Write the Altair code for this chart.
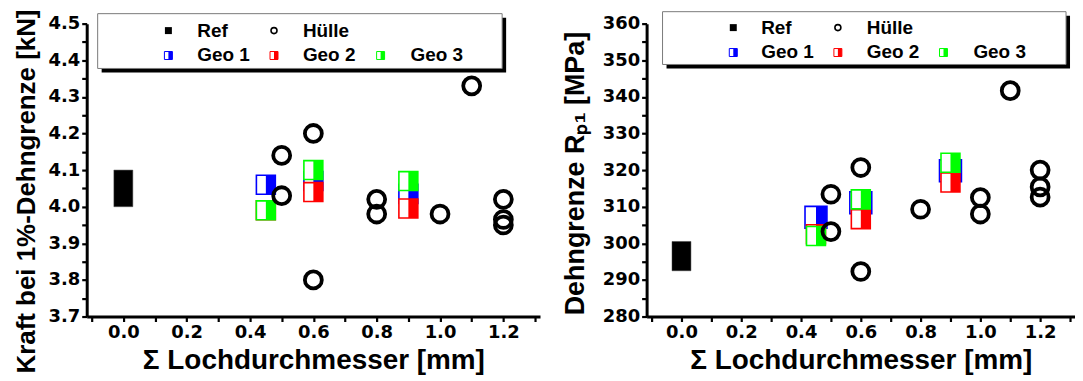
import altair as alt
import pandas as pd

# ---------------- data ----------------
ref_x = [0.0]
geo_x = [0.45, 0.6, 0.9]

kraft_ref_lo = [4.00]
kraft_ref_hi = [4.10]
kraft_huelle_x = [0.5, 0.5, 0.6, 0.6, 0.8, 0.8, 1.0, 1.1, 1.2, 1.2, 1.2]
kraft_huelle_y = [4.14, 4.03, 4.20, 3.80, 4.02, 3.98, 3.98, 4.33, 4.02, 3.965, 3.95]
kraft_geo1 = [4.06, 4.07, 4.035]
kraft_geo2 = [3.99, 4.04, 3.995]
kraft_geo3 = [3.99, 4.10, 4.07]

rp_ref_lo = [292.5]
rp_ref_hi = [300.5]
rp_huelle_x = [0.5, 0.5, 0.6, 0.6, 0.8, 1.0, 1.0, 1.1, 1.2, 1.2, 1.2]
rp_huelle_y = [313.4, 303.2, 320.7, 292.3, 309.3, 312.5, 308.0, 341.7, 320.0, 315.4, 312.6]
rp_geo1 = [307.1, 311.1, 319.8]
rp_geo2 = [302.5, 306.6, 316.6]
rp_geo3 = [302.0, 312.0, 322.0]

x_ticks = [-0.1, 0.0, 0.1, 0.2, 0.3, 0.4, 0.5, 0.6, 0.7, 0.8, 0.9, 1.0, 1.1, 1.2, 1.3]
kraft_ticks = [3.7, 3.75, 3.8, 3.85, 3.9, 3.95, 4.0, 4.05, 4.1, 4.15, 4.2, 4.25,
               4.3, 4.35, 4.4, 4.45, 4.5]
rp_ticks = [280, 285, 290, 295, 300, 305, 310, 315, 320, 325, 330, 335, 340, 345,
            350, 355, 360]

series_names = ["Ref", "Hülle", "Geo 1", "Geo 2", "Geo 3"]
geo_colors = ["#0000FF", "#FF0000", "#00FF00"]

# ---------------- styling ----------------
SQ = "M-1,-1H1V1H-1Z"
HALF = "M0,-1H1V1H0Z"
LABEL_FONT = "DejaVu Sans"
TITLE_FONT = "Liberation Sans"


def make_panel(ytitle, ydom, yticks, ylabel_expr, ref_lo, ref_hi, hx, hy, geos, geo_sizes,
               width, height, ytitle_pad, ytitle_size, ytitle_y, leg):
    xaxis = alt.Axis(
        values=x_ticks,
        labelExpr="(abs(round(datum.value*10)) % 2 == 0 && datum.value > -0.05 && datum.value < 1.25) ? format(datum.value, '.1f') : ''",
        title="Σ Lochdurchmesser [mm]", titleFontSize=28, titleFont=TITLE_FONT,
        titleFontWeight="bold", titlePadding=5, labelOverlap=False, labelFlush=False,
    )
    yaxis = alt.Axis(
        values=yticks, labelExpr=ylabel_expr, title=ytitle, titleFontSize=ytitle_size,
        titleFont=TITLE_FONT, titleFontWeight="bold", titlePadding=ytitle_pad,
        titleY=ytitle_y, labelOverlap=False, labelFlush=False,
    )
    xs = alt.Scale(domain=[-0.1, 1.3], nice=False, zero=False)
    ys = alt.Scale(domain=ydom, nice=False, zero=False)

    def X():
        return alt.X("x:Q", scale=xs, axis=xaxis)

    def Y():
        return alt.Y("y:Q", scale=ys, axis=yaxis)

    layers = []
    ref_df = pd.DataFrame({"x": ref_x, "y": ref_lo, "y2": ref_hi})
    layers.append(
        alt.Chart(ref_df).mark_bar(size=19, color="black", stroke="#444444", strokeWidth=0.5)
        .encode(x=X(), y=Y(), y2="y2:Q")
    )
    for vals, col, sz in zip(geos, geo_colors, geo_sizes):
        gdf = pd.DataFrame({"x": geo_x, "y": vals})
        layers.append(
            alt.Chart(gdf).mark_point(shape=SQ, size=sz, filled=True, fill="white",
                                      stroke=col, strokeWidth=1.6, opacity=1)
            .encode(x=X(), y=Y())
        )
        layers.append(
            alt.Chart(gdf).mark_point(shape=HALF, size=sz, filled=True, fill=col,
                                      strokeOpacity=0, opacity=1)
            .encode(x=X(), y=Y())
        )
    hdf = pd.DataFrame({"x": hx, "y": hy})
    layers.append(
        alt.Chart(hdf).mark_point(shape="circle", size=289, filled=False, stroke="black",
                                  strokeWidth=3.8, opacity=1)
        .encode(x=X(), y=Y())
    )

    # ----- legend (drawn in pixel space) -----
    one = pd.DataFrame({"k": [0]})
    bx0, bx1, by0, by1 = leg["box"]
    layers.append(alt.Chart(one).mark_rect(color="black").encode(
        x=alt.value(bx0 + 4), x2=alt.value(bx1 + 4), y=alt.value(by0 + 4), y2=alt.value(by1 + 4)))
    layers.append(alt.Chart(one).mark_rect(fill="white", stroke="#7a7a7a", strokeWidth=1).encode(
        x=alt.value(bx0), x2=alt.value(bx1), y=alt.value(by0), y2=alt.value(by1)))
    mx, tx, ry = leg["mx"], leg["tx"], leg["ry"]
    slots = [(0, 0), (0, 1), (1, 0), (1, 1), (1, 2)]
    for i, name in enumerate(series_names):
        r, c = slots[i]
        px, py = alt.value(mx[c]), alt.value(ry[r])
        if name == "Ref":
            layers.append(alt.Chart(one).mark_point(shape="square", size=49, filled=True,
                                                    color="black", opacity=1).encode(x=px, y=py))
        elif name == "Hülle":
            layers.append(alt.Chart(one).mark_point(shape="circle", size=36, filled=False,
                                                    stroke="black", strokeWidth=1.6, opacity=1).encode(x=px, y=py))
        else:
            col = geo_colors[i - 2]
            layers.append(alt.Chart(one).mark_point(shape=SQ, size=64, filled=True, fill="white",
                                                    stroke=col, strokeWidth=1, opacity=1).encode(x=px, y=py))
            layers.append(alt.Chart(one).mark_point(shape=HALF, size=64, filled=True, fill=col,
                                                    strokeOpacity=0, opacity=1).encode(x=px, y=py))
        layers.append(alt.Chart(one).mark_text(align="left", baseline="middle", font=TITLE_FONT,
                                               fontWeight="bold", fontSize=19, color="black")
                      .encode(x=alt.value(tx[c]), y=py, text=alt.value(name)))

    return alt.layer(*layers).properties(width=width, height=height)


left = make_panel(
    "Kraft bei 1%-Dehngrenze [kN]", [3.7, 4.5], kraft_ticks,
    "abs(round(datum.value*20)) % 2 == 0 ? format(datum.value, '.1f') : ''",
    kraft_ref_lo, kraft_ref_hi, kraft_huelle_x, kraft_huelle_y,
    [kraft_geo1, kraft_geo2, kraft_geo3], [361, 361, 361], 455, 294, 9, 26, 168,
    {"box": (11, 417, -10, 45), "mx": [82, 188, 295], "tx": [111, 217, 325], "ry": [7, 32]},
)
right = make_panel(
    "Dehngrenze Rₚ₁ [MPa]", [280, 360], rp_ticks,
    "datum.value % 10 == 0 ? format(datum.value, 'd') : ''",
    rp_ref_lo, rp_ref_hi, rp_huelle_x, rp_huelle_y,
    [rp_geo1, rp_geo2, rp_geo3], [484, 361, 361], 430, 294, 13, 27, 150,
    {"box": (16, 421, -12, 41), "mx": [87, 192, 298], "tx": [115, 221, 328], "ry": [4, 29]},
)

chart = alt.hconcat(left, right, spacing=21).properties(
    padding={"left": 5, "top": 0, "right": 0, "bottom": 0}
).configure_view(stroke=None).configure_axis(
    domainColor="black", domainWidth=3, tickColor="black", tickWidth=2.2, tickSize=5,
    labelFont=LABEL_FONT, labelFontWeight="bold", labelFontSize=18, labelColor="black",
    labelPadding=2, titleColor="black", grid=False,
)

chart.save("out.html", embed_options={"renderer": "svg", "actions": False})
